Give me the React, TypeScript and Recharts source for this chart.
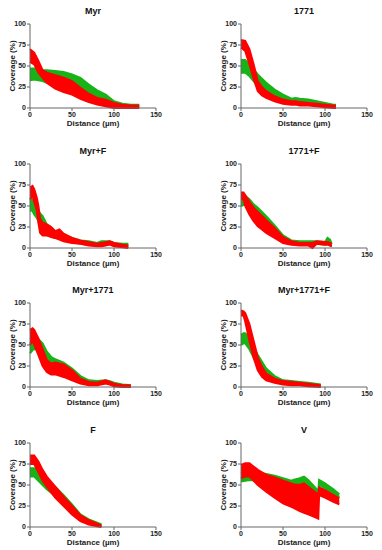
import { ComposedChart, Area, XAxis, YAxis } from 'recharts';

const GREEN = '#17b317';
const RED = '#ff0000';
const FONT = '"Liberation Sans", Arial, sans-serif';

const yTicks = [0, 25, 50, 75, 100];
const xTicks = [0, 50, 100, 150];

// Myr
const myrX = [0, 5, 10, 15, 20, 30, 40, 50, 60, 70, 80, 90, 100, 110, 120, 130];
const myrGreenLo = [33, 34, 33, 32, 30, 28, 25, 22, 17, 12, 8, 5, 2, 1, 1, 1];
const myrGreenHi = [47, 47, 46, 45, 45, 44, 43, 40, 36, 28, 21, 16, 8, 5, 4, 4];
const myrRedLo = [55, 52, 42, 36, 30, 23, 19, 16, 11, 7, 4, 2, 0, 0, 0, 0];
const myrRedHi = [70, 66, 56, 45, 42, 39, 36, 32, 24, 17, 12, 10, 6, 4, 3, 3];

// 1771
const s1771X = [0, 5, 10, 15, 20, 25, 30, 40, 50, 60, 65, 70, 80, 90, 100, 110, 113];
const s1771GreenLo = [42, 42, 38, 32, 26, 21, 17, 12, 8, 5, 7, 6, 5, 4, 2, 1, 1];
const s1771GreenHi = [57, 57, 52, 46, 40, 35, 30, 22, 16, 11, 12, 11, 10, 8, 6, 4, 4];
const s1771RedLo = [72, 68, 52, 35, 20, 15, 12, 8, 5, 4, 4, 3, 3, 2, 1, 0, 0];
const s1771RedHi = [81, 80, 70, 52, 32, 25, 20, 14, 10, 8, 8, 7, 6, 5, 4, 3, 3];

// Myr+F
const myrFX = [0, 3, 5, 8, 10, 12, 15, 20, 25, 30, 35, 40, 50, 60, 70, 80, 85, 90, 95, 100, 110, 117];
const myrFGreenLo = [45, 44, 40, 36, 32, 27, 22, 15, 14, 12, 11, 10, 7, 5, 4, 3, 4, 4, 5, 3, 2, 2];
const myrFGreenHi = [58, 57, 55, 50, 45, 41, 38, 28, 25, 20, 18, 16, 12, 9, 8, 6, 8, 8, 8, 6, 5, 5];
const myrFRedLo = [58, 62, 55, 45, 30, 18, 15, 15, 13, 12, 10, 8, 6, 5, 3, 2, 2, 3, 4, 2, 1, 0];
const myrFRedHi = [72, 74, 70, 60, 50, 35, 30, 28, 25, 20, 22, 17, 12, 9, 7, 5, 6, 7, 8, 6, 4, 3];

// 1771+F
const s1771FX = [0, 3, 5, 10, 15, 20, 25, 30, 40, 50, 60, 70, 80, 85, 90, 100, 103, 106, 108];
const s1771FGreenLo = [50, 51, 52, 46, 40, 35, 30, 25, 15, 8, 5, 4, 5, 5, 5, 4, 5, 3, 2];
const s1771FGreenHi = [60, 61, 62, 58, 52, 48, 43, 38, 27, 15, 9, 8, 8, 8, 8, 7, 12, 10, 5];
const s1771FRedLo = [58, 58, 50, 40, 32, 26, 22, 18, 12, 6, 4, 3, 3, 0, 5, 4, 4, 3, 2];
const s1771FRedHi = [66, 66, 63, 55, 48, 43, 38, 33, 24, 13, 8, 6, 6, 6, 8, 7, 7, 6, 5];

// Myr+1771
const myr1771X = [0, 3, 5, 10, 15, 20, 25, 30, 40, 50, 60, 70, 80, 90, 95, 100, 110, 120];
const myr1771GreenLo = [40, 44, 45, 45, 38, 30, 28, 26, 20, 12, 6, 4, 4, 5, 4, 2, 1, 0];
const myr1771GreenHi = [52, 54, 55, 57, 52, 42, 36, 33, 29, 22, 13, 8, 7, 8, 7, 5, 3, 2];
const myr1771RedLo = [50, 55, 50, 38, 25, 18, 15, 15, 12, 8, 4, 2, 2, 4, 3, 1, 0, 0];
const myr1771RedHi = [68, 70, 68, 58, 45, 32, 28, 29, 27, 20, 10, 6, 5, 8, 6, 4, 2, 2];

// Myr+1771+F
const myr1771FX = [0, 3, 5, 10, 15, 20, 25, 30, 40, 50, 60, 70, 80, 95];
const myr1771FGreenLo = [50, 52, 52, 45, 35, 25, 18, 12, 7, 4, 4, 3, 3, 1];
const myr1771FGreenHi = [62, 64, 64, 58, 48, 38, 30, 22, 13, 8, 7, 6, 5, 3];
const myr1771FRedLo = [85, 85, 78, 55, 35, 20, 12, 8, 5, 3, 2, 2, 1, 0];
const myr1771FRedHi = [91, 90, 88, 75, 55, 35, 24, 16, 10, 7, 6, 5, 4, 2];

// F
const fX = [0, 5, 10, 15, 20, 30, 40, 50, 60, 70, 80, 85];
const fGreenLo = [60, 60, 55, 50, 45, 37, 28, 17, 8, 4, 2, 1];
const fGreenHi = [70, 70, 67, 60, 56, 48, 38, 27, 15, 9, 5, 3];
const fRedLo = [75, 75, 65, 55, 48, 35, 25, 15, 7, 3, 1, 0];
const fRedHi = [85, 85, 78, 68, 60, 48, 36, 25, 14, 8, 4, 2];

// V
const vX = [0, 5, 10, 20, 30, 40, 50, 60, 62, 70, 75, 80, 90, 92, 93, 100, 110, 117];
const vGreenLo = [54, 55, 56, 55, 53, 50, 47, 44, 47, 50, 53, 49, 38, 36, 50, 46, 40, 35];
const vGreenHi = [64, 66, 68, 65, 63, 61, 58, 55, 56, 58, 60, 56, 45, 42, 56, 52, 45, 39];
const vRedLo = [58, 60, 60, 50, 42, 35, 28, 24, 23, 19, 17, 15, 11, 10, 38, 35, 30, 27];
const vRedHi = [74, 76, 76, 68, 62, 59, 55, 52, 51, 50, 52, 48, 40, 39, 47, 44, 38, 34];

const build = (x: number[], gLo: number[], gHi: number[], rLo: number[], rHi: number[]) =>
  x.map((d, i) => ({ d, green: [gLo[i], gHi[i]], red: [rLo[i], rHi[i]] }));

const panels = [
  { title: 'Myr', col: 0, top: 24, data: build(myrX, myrGreenLo, myrGreenHi, myrRedLo, myrRedHi) },
  { title: '1771', col: 1, top: 24, data: build(s1771X, s1771GreenLo, s1771GreenHi, s1771RedLo, s1771RedHi) },
  { title: 'Myr+F', col: 0, top: 164, data: build(myrFX, myrFGreenLo, myrFGreenHi, myrFRedLo, myrFRedHi) },
  { title: '1771+F', col: 1, top: 164, data: build(s1771FX, s1771FGreenLo, s1771FGreenHi, s1771FRedLo, s1771FRedHi) },
  { title: 'Myr+1771', col: 0, top: 303, data: build(myr1771X, myr1771GreenLo, myr1771GreenHi, myr1771RedLo, myr1771RedHi) },
  { title: 'Myr+1771+F', col: 1, top: 303, data: build(myr1771FX, myr1771FGreenLo, myr1771FGreenHi, myr1771FRedLo, myr1771FRedHi) },
  { title: 'F', col: 0, top: 443, data: build(fX, fGreenLo, fGreenHi, fRedLo, fRedHi) },
  { title: 'V', col: 1, top: 443, data: build(vX, vGreenLo, vGreenHi, vRedLo, vRedHi) },
];

const YTitle = (props: any) => {
  const vb = props.viewBox;
  const cx = vb.x + vb.width - 18;
  const cy = vb.y + vb.height / 2;
  return (
    <text x={cx} y={cy} transform={`rotate(-90 ${cx} ${cy})`} textAnchor="middle" dominantBaseline="central"
      fontSize={8} fontWeight="bold" fontFamily={FONT} fill="#222">
      Coverage (%)
    </text>
  );
};

const XTitle = (props: any) => {
  const vb = props.viewBox;
  return (
    <text x={vb.x + vb.width / 2} y={vb.y + 18} textAnchor="middle" fontSize={8} fontWeight="bold"
      fontFamily={FONT} fill="#222">
      Distance (µm)
    </text>
  );
};

const tickStyle = { fontSize: 7, fontWeight: 'bold', fontFamily: FONT, fill: '#222' };

const Panel = ({ title, col, top, data }: any) => {
  const axisW = col === 0 ? 30 : 50;
  return (
    <div style={{ position: 'absolute', left: col * 191, top: top - 24 }}>
      <ComposedChart width={191} height={150} data={data}
        margin={{ top: 24, right: 191 - axisW - 126, bottom: 0, left: 0 }}>
        <text x={axisW + 63} y={14} textAnchor="middle" fontSize={9} fontWeight="bold" fontFamily={FONT} fill="#111">
          {title}
        </text>
        <XAxis dataKey="d" type="number" domain={[0, 150]} ticks={xTicks} interval={0} height={42}
          stroke="#666" tickSize={3} tickMargin={1} tick={tickStyle} label={<XTitle />} />
        <YAxis type="number" domain={[0, 100]} ticks={yTicks} interval={0} width={axisW}
          stroke="#666" tickSize={3} tickMargin={1} tick={tickStyle} label={<YTitle />} />
        <Area dataKey="green" type="linear" fill={GREEN} fillOpacity={1} stroke={GREEN} strokeWidth={2}
          dot={false} activeDot={false} isAnimationActive={false} />
        <Area dataKey="red" type="linear" fill={RED} fillOpacity={1} stroke={RED} strokeWidth={2}
          dot={false} activeDot={false} isAnimationActive={false} />
      </ComposedChart>
    </div>
  );
};

export default function App() {
  return (
    <div style={{ position: 'absolute', left: 0, top: 0, width: 382, height: 550, overflow: 'hidden', background: '#fff' }}>
      {panels.map((p) => (
        <Panel key={p.title} {...p} />
      ))}
    </div>
  );
}
